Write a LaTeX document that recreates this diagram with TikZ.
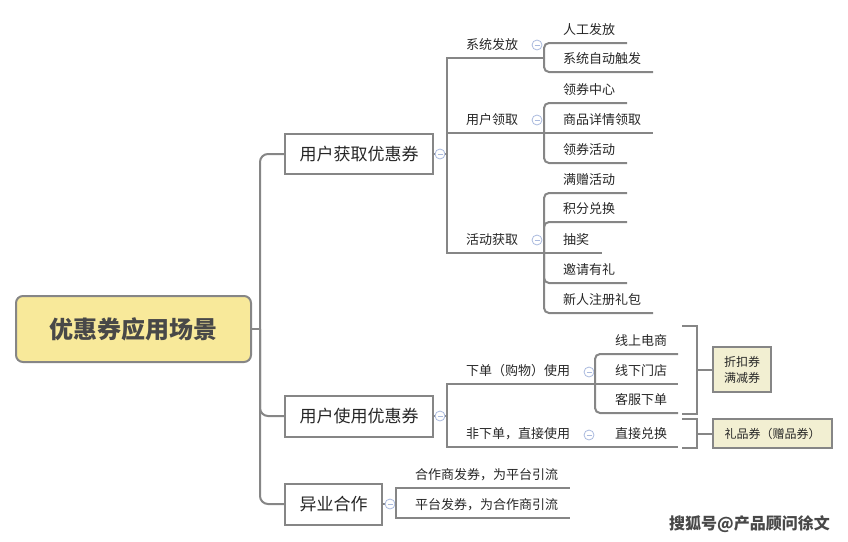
\documentclass[tikz,border=0pt]{standalone}
\usepackage{fontspec}
\setmainfont{Noto Sans CJK SC}
\definecolor{lineg}{RGB}{134,134,134}
\definecolor{txtc}{RGB}{38,38,38}
\definecolor{circc}{RGB}{170,186,222}
\definecolor{rootfill}{RGB}{248,233,154}
\definecolor{notefill}{RGB}{242,239,210}
\definecolor{roottxt}{RGB}{72,72,72}
\tikzset{
  conn/.style={draw=lineg, line width=2pt},
  lonebox/.style={draw=lineg, line width=2pt, fill=white, inner sep=0pt, font=\fontsize{17}{20}\selectfont, text=txtc},
  rootbox/.style={draw=lineg, line width=2pt, fill=rootfill, rounded corners=7pt, inner sep=0pt, font=\fontsize{24}{28}\selectfont\bfseries, text=roottxt},
  lab/.style={anchor=west, inner sep=0pt, font=\fontsize{13}{15}\selectfont, text=txtc},
  circ/.style={circle, draw=circc, fill=white, line width=0.8pt, minimum size=10pt, inner sep=0pt,
    path picture={\draw[circc, line width=0.8pt] ([xshift=-2.5pt]path picture bounding box.center) -- ([xshift=2.5pt]path picture bounding box.center);}},
  notebox/.style={draw=lineg, line width=2pt, fill=notefill, inner sep=0pt, align=left, font=\fontsize{12}{16}\selectfont, text=txtc},
}
\begin{document}
\begin{tikzpicture}[x=1pt,y=-1pt]
\useasboundingbox (0,0) rectangle (848,541);
% root
\node[rootbox, minimum width=235pt, minimum height=66pt] (root) at (133.5,329) {优惠券应用场景};
\coordinate (t0) at (260,329);
% level 1 boxes
\node[lonebox, minimum width=148pt, minimum height=40pt] (a) at (359,154) {用户获取优惠券};
\node[lonebox, minimum width=148pt, minimum height=41pt] (b) at (359,416) {用户使用优惠券};
\node[lonebox, minimum width=97pt, minimum height=41pt] (c) at (333.5,504) {异业合作};
\draw[conn] (root.east) -- (t0);
\draw[conn, rounded corners=8pt] (t0) |- (a.west);
\draw[conn, rounded corners=8pt] (t0) |- (b.west);
\draw[conn, rounded corners=8pt] (t0) |- (c.west);
% ---------- branch a
\coordinate (ja) at (447,154);
\draw[conn] (a.east) -- (ja);
\node[circ] (ca) at (440,154) {};
\coordinate (a1e) at (544,58);
\coordinate (a2e) at (544,133);
\coordinate (a3e) at (544,253);
\draw[conn] (ja) |- (a1e);
\draw[conn] (ja) |- (a2e);
\draw[conn] (ja) |- (a3e);
\node[lab] (a1) at (466,45) {系统发放};
\node[lab] (a2) at (466,120) {用户领取};
\node[lab] (a3) at (466,240) {活动获取};
\node[circ] (ca1) at (537,45) {};
\node[circ] (ca2) at (537,120) {};
\node[circ] (ca3) at (537,240) {};
% a1 children
\coordinate (a11e) at (627,43);
\coordinate (a12e) at (653,72);
\draw[conn, rounded corners=5pt] (a1e) |- (a11e);
\draw[conn, rounded corners=5pt] (a1e) |- (a12e);
\node[lab] (a11) at (563,30) {人工发放};
\node[lab] (a12) at (563,59) {系统自动触发};
% a2 children
\coordinate (a21e) at (627,103);
\coordinate (a22e) at (653,133);
\coordinate (a23e) at (627,163);
\draw[conn, rounded corners=5pt] (a2e) |- (a21e);
\draw[conn] (a2e) -- (a22e);
\draw[conn, rounded corners=5pt] (a2e) |- (a23e);
\node[lab] (a21) at (563,90) {领券中心};
\node[lab] (a22) at (563,120) {商品详情领取};
\node[lab] (a23) at (563,150) {领券活动};
% a3 children
\coordinate (a31e) at (627,193);
\coordinate (a32e) at (627,222);
\coordinate (a33e) at (602,253);
\coordinate (a34e) at (627,283);
\coordinate (a35e) at (653,313);
\draw[conn, rounded corners=5pt] (a3e) |- (a31e);
\draw[conn, rounded corners=5pt] (a3e) |- (a32e);
\draw[conn] (a3e) -- (a33e);
\draw[conn, rounded corners=5pt] (a3e) |- (a34e);
\draw[conn, rounded corners=5pt] (a3e) |- (a35e);
\node[lab] (a31) at (563,180) {满赠活动};
\node[lab] (a32) at (563,209) {积分兑换};
\node[lab] (a33) at (563,240) {抽奖};
\node[lab] (a34) at (563,270) {邀请有礼};
\node[lab] (a35) at (563,300) {新人注册礼包};
% ---------- branch b
\coordinate (jb) at (447,416);
\draw[conn] (b.east) -- (jb);
\node[circ] (cb) at (440,416) {};
\coordinate (b1e) at (595,384);
\coordinate (b2e) at (595,447);
\draw[conn] (jb) |- (b1e);
\draw[conn] (jb) |- (b2e);
\node[lab] (b1) at (466,371) {下单（购物）使用};
\node[lab] (b2) at (466,434) {非下单，直接使用};
\node[circ] (cb1) at (589,372) {};
\node[circ] (cb2) at (589,435) {};
\coordinate (b11e) at (678,354);
\coordinate (b12e) at (678,384);
\coordinate (b13e) at (678,413);
\coordinate (b21e) at (678,447);
\draw[conn, rounded corners=5pt] (b1e) |- (b11e);
\draw[conn] (b1e) -- (b12e);
\draw[conn, rounded corners=5pt] (b1e) |- (b13e);
\draw[conn] (b2e) -- (b21e);
\node[lab] (b11) at (615,341) {线上电商};
\node[lab] (b12) at (615,371) {线下门店};
\node[lab] (b13) at (615,400) {客服下单};
\node[lab] (b21) at (615,434) {直接兑换};
% brackets and notes
\node[notebox, minimum width=58pt, minimum height=45pt] (n1) at (742,369.5) {折扣券\\满减券};
\node[notebox, minimum width=119pt, minimum height=29pt] (n2) at (772.5,433.5) {礼品券（赠品券）};
\coordinate (br1t) at (682,326);
\coordinate (br1b) at (682,414);
\coordinate (br1m) at (697,369.5);
\draw[conn] (br1t) -| (br1m) |- (br1b);
\draw[conn] (br1m) -- (n1.west);
\coordinate (br2t) at (682,419);
\coordinate (br2b) at (682,448);
\coordinate (br2m) at (697,433.5);
\draw[conn] (br2t) -| (br2m) |- (br2b);
\draw[conn] (br2m) -- (n2.west);
% ---------- branch c
\coordinate (jc) at (396,504);
\draw[conn] (c.east) -- (jc);
\node[circ] (cc) at (390,504) {};
\coordinate (c1e) at (570,488);
\coordinate (c2e) at (570,518);
\draw[conn] (jc) |- (c1e);
\draw[conn] (jc) |- (c2e);
\node[lab] (c1) at (415,475) {合作商发券，为平台引流};
\node[lab] (c2) at (415,505) {平台发券，为合作商引流};
% watermark
\node[inner sep=0pt, font=\fontsize{16}{18}\selectfont\bfseries, text=roottxt] (wm) at (749.5,524) {搜狐号@产品顾问徐文};
\end{tikzpicture}
\end{document}
